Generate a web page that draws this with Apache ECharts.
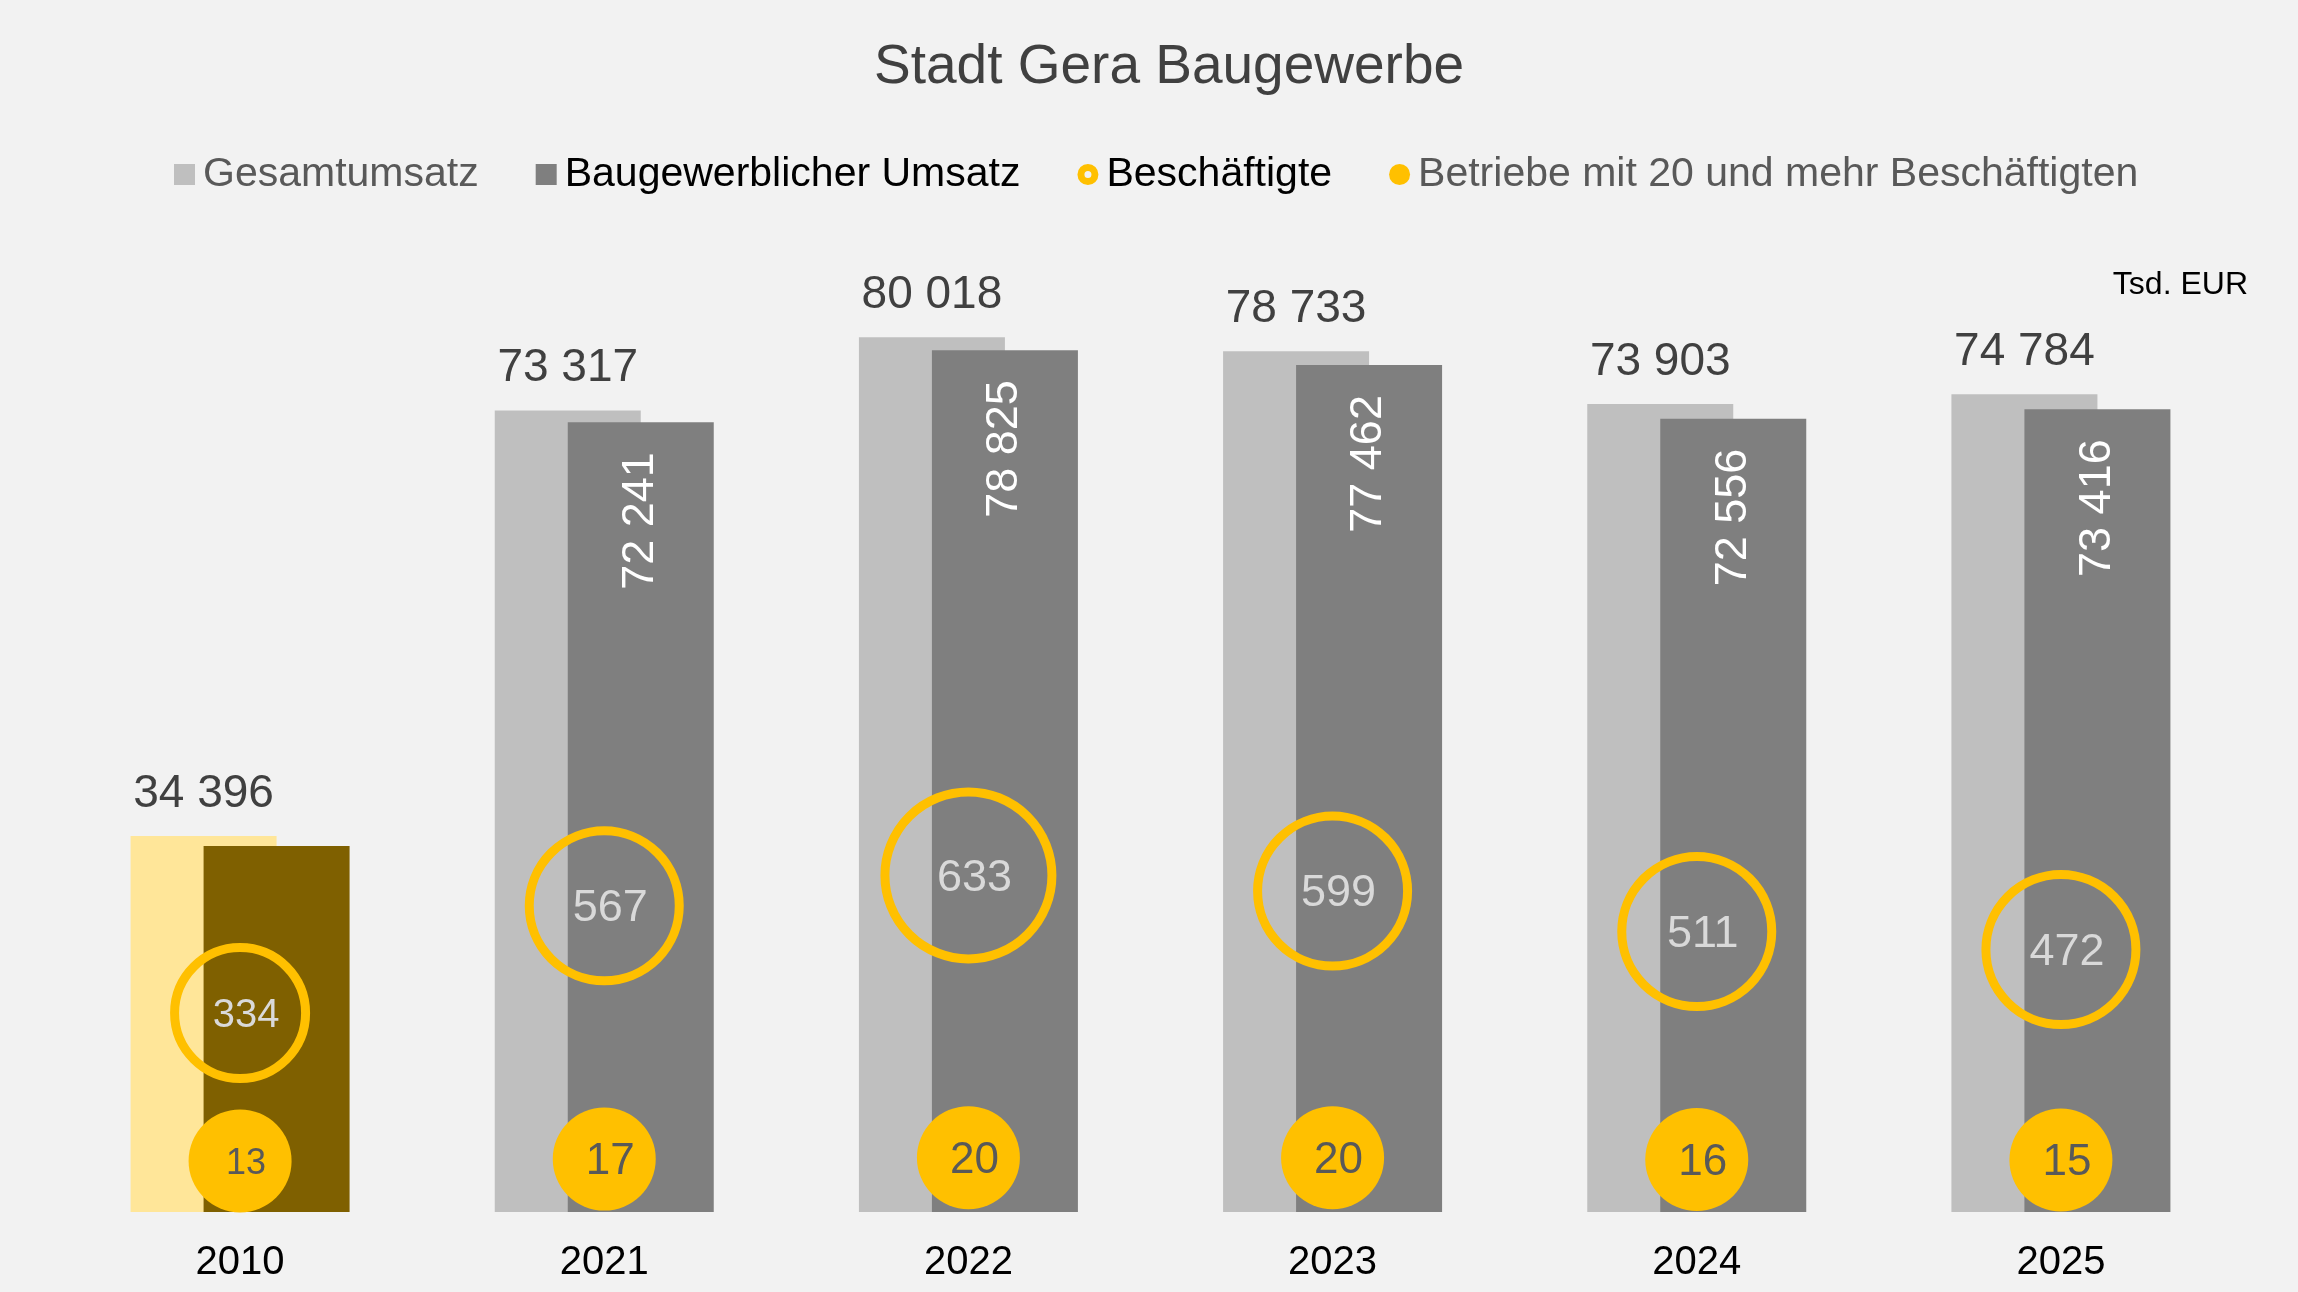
<!DOCTYPE html>
<html>
<head>
<meta charset="utf-8">
<title>Stadt Gera Baugewerbe</title>
<script src="https://cdn.jsdelivr.net/npm/echarts@6/dist/echarts.min.js"></script>
<style>
html, body { margin: 0; padding: 0; background: #F2F2F2; }
#chart { width: 2298px; height: 1292px; }
</style>
</head>
<body>
<div id="chart"></div>
<script>
var years = ['2010', '2021', '2022', '2023', '2024', '2025'];
var gesamtumsatz = [34396, 73317, 80018, 78733, 73903, 74784];
var baugewUmsatz = [33480, 72241, 78825, 77462, 72556, 73416];
var beschaeftigte = [334, 567, 633, 599, 511, 472];
var betriebe = [13, 17, 20, 20, 16, 15];

// ring diameters as drawn in the original (not value based)
var ringSizes = [131, 150, 167, 150, 150, 150];

var font = '"Liberation Sans", Arial, sans-serif';
function fmt(v) {
    return String(v).replace(/\B(?=(\d{3})+(?!\d))/g, ' ');
}
var ringIcon = 'path://M0,12A12,12,0,1,1,24,12A12,12,0,1,1,0,12ZM8,12A4,4,0,1,0,16,12A4,4,0,1,0,8,12Z';

var chart = echarts.init(document.getElementById('chart'));
var option = {
    backgroundColor: '#F2F2F2',
    animation: false,
    textStyle: { fontFamily: font },
    title: [{
        text: 'Stadt Gera Baugewerbe',
        left: 869,
        top: 35,
        textStyle: { fontSize: 55, fontWeight: 'normal', color: '#404040', fontFamily: font }
    }, {
        text: 'Tsd. EUR',
        right: 45,
        top: 264,
        textStyle: { fontSize: 32, fontWeight: 'normal', color: '#000000', fontFamily: font }
    }],
    legend: {
        left: 169,
        top: 149,
        itemGap: 57,
        itemWidth: 21,
        itemHeight: 21,
        selectedMode: false,
        textStyle: { fontSize: 41, fontFamily: font, padding: [0, 0, 0, 3] },
        data: [
            { name: 'Gesamtumsatz', icon: 'rect', textStyle: { color: '#595959' } },
            { name: 'Baugewerblicher Umsatz', icon: 'rect', textStyle: { color: '#000000' } },
            { name: 'Beschäftigte', icon: ringIcon, itemStyle: { color: '#FFC000', borderWidth: 0 }, textStyle: { color: '#000000' } },
            { name: 'Betriebe mit 20 und mehr Beschäftigten', icon: 'circle', textStyle: { color: '#595959' } }
        ]
    },
    grid: { left: 58, right: 55, top: 228, bottom: 80 },
    xAxis: {
        type: 'category',
        data: years,
        axisLine: { show: false },
        axisTick: { show: false },
        axisLabel: { fontSize: 40, color: '#000000', margin: 31, fontFamily: font }
    },
    yAxis: [
        { type: 'value', min: 0, max: 90000, show: false },
        { type: 'value', min: -98, max: 2039, show: false }
    ],
    series: [{
        name: 'Gesamtumsatz',
        type: 'bar',
        barWidth: 146,
        barGap: '-50%',
        itemStyle: { color: '#BFBFBF' },
        label: {
            show: true, position: 'top', distance: 19,
            fontSize: 46, color: '#404040', fontFamily: font,
            formatter: function (p) { return fmt(p.value); }
        },
        emphasis: { disabled: true },
        data: gesamtumsatz.map(function (v, i) {
            return i === 0 ? { value: v, itemStyle: { color: '#FFE699' } } : v;
        })
    }, {
        name: 'Baugewerblicher Umsatz',
        type: 'bar',
        barWidth: 146,
        barGap: '-50%',
        itemStyle: { color: '#7F7F7F' },
        label: {
            show: true, position: 'insideTop', distance: 30, rotate: 90,
            align: 'right', verticalAlign: 'middle',
            fontSize: 45, color: '#FFFFFF', fontFamily: font,
            formatter: function (p) { return fmt(p.value); }
        },
        emphasis: { disabled: true },
        data: baugewUmsatz.map(function (v, i) {
            return i === 0 ? { value: v, itemStyle: { color: '#7F6000' }, label: { show: false } } : v;
        })
    }, {
        name: 'Beschäftigte',
        type: 'scatter',
        yAxisIndex: 1,
        symbol: 'circle',
        symbolSize: function (v, p) { return ringSizes[p.dataIndex]; },
        itemStyle: { color: 'rgba(255,192,0,0)', borderColor: '#FFC000', borderWidth: 9, opacity: 1 },
        label: { show: true, position: 'inside', offset: [6, 3], fontSize: 45, color: '#D9D9D9', fontFamily: font },
        emphasis: { disabled: true },
        data: beschaeftigte.map(function (v, i) {
            return i === 0 ? { value: v, label: { fontSize: 40 } } : v;
        })
    }, {
        name: 'Betriebe mit 20 und mehr Beschäftigten',
        type: 'scatter',
        yAxisIndex: 1,
        symbol: 'circle',
        symbolSize: 103,
        itemStyle: { color: '#FFC000', opacity: 1 },
        label: { show: true, position: 'inside', offset: [6, 3], fontSize: 44, color: '#595959', fontFamily: font },
        emphasis: { disabled: true },
        data: betriebe.map(function (v, i) {
            return i === 0 ? { value: v, label: { fontSize: 36 } } : v;
        })
    }]
};
chart.setOption(option);
</script>
</body>
</html>
